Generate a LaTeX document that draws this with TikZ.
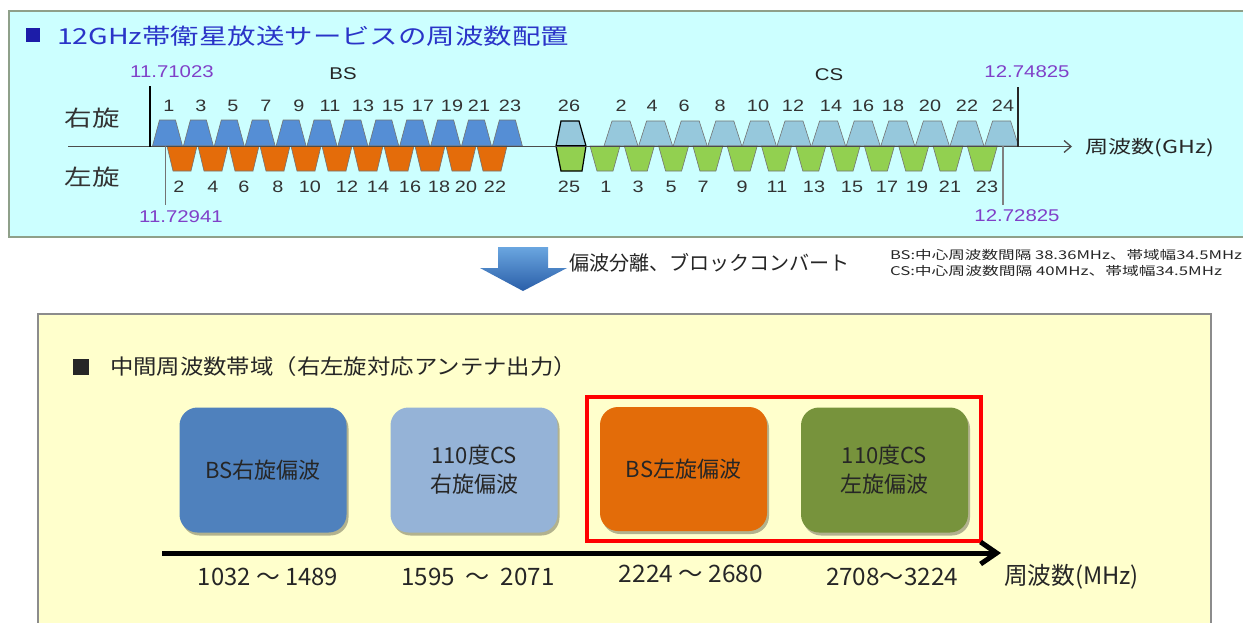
\documentclass[tikz,border=0pt]{standalone}
\usepackage{fontspec}
\usepackage{graphicx}
\setmainfont{Noto Sans CJK JP}
\newfontfamily\jpx[FakeStretch=1.25]{Noto Sans CJK JP}
\newfontfamily\arx[FakeStretch=1.2]{Liberation Sans}
\usetikzlibrary{arrows.meta,shadows}
\definecolor{toppanel}{HTML}{CCFFFF}
\definecolor{topborder}{HTML}{8FA08A}
\definecolor{botpanel}{HTML}{FFFFCC}
\definecolor{botborder}{HTML}{8C8C8C}
\definecolor{titleblue}{HTML}{2A34C8}
\definecolor{sqblue}{HTML}{1C1CA8}
\definecolor{freqpurple}{HTML}{8040C8}
\definecolor{bsblue}{HTML}{558ED5}
\definecolor{bsorange}{HTML}{E46C0A}
\definecolor{csblue}{HTML}{96C8DC}
\definecolor{csgreen}{HTML}{92D050}
\definecolor{boxA}{HTML}{4F81BD}
\definecolor{boxB}{HTML}{95B3D7}
\definecolor{boxC}{HTML}{E36C09}
\definecolor{boxD}{HTML}{77933C}
\definecolor{txtdark}{HTML}{262626}
\definecolor{arrowtop}{HTML}{6AA6E0}
\definecolor{arrowbot}{HTML}{2A5EA8}
\newcommand\fitw[2]{\resizebox{#1}{\height}{#2}}
\begin{document}
\begin{tikzpicture}[x=1pt,y=-1pt,
  every node/.style={inner sep=0pt,outer sep=0pt},
  num/.style={font=\arx\fontsize{16.5}{18}\selectfont,text=black!80},
  freq/.style={font=\arx\fontsize{17}{19}\selectfont,text=freqpurple},
  band/.style={font=\arx\fontsize{17}{19}\selectfont,text=black!85},
  pol/.style={font=\jpx\fontsize{22}{24}\selectfont,text=black!80},
  trBR/.style={fill=bsblue,draw=black!55,line width=0.6pt},
  trBL/.style={fill=bsorange,draw=black!55,line width=0.6pt},
  trCR/.style={fill=csblue,draw=black!55,line width=0.6pt},
  trCL/.style={fill=csgreen,draw=black!55,line width=0.6pt},
  ibox/.style={rounded corners=18pt,minimum width=167pt,minimum height=125pt,
    font=\fontsize{22}{29}\selectfont,text=txtdark,align=center,
    drop shadow={shadow xshift=2pt,shadow yshift=-3pt,opacity=0.3,fill=black}},
  rng/.style={font=\fontsize{24}{26}\selectfont,text=txtdark},
]
\useasboundingbox (0,0) rectangle (1243,622);
\fill[white] (0,0) rectangle (1243,622);

% ---------- top panel ----------
\draw[topborder,line width=2pt,fill=toppanel] (1260,11) -- (9,11) -- (9,237) -- (1260,237);
\fill[sqblue] (26,28) rectangle (40,42);
\node[anchor=west,text=titleblue,font=\fontsize{22}{24}\selectfont] (ttl) at (57,36)
  {\fitw{512pt}{12GHz帯衛星放送サービスの周波数配置}};

% BS right-hand (odd)
\foreach \i in {0,...,11}{
  \pgfmathsetmacro\c{167.5+30.9*\i}
  \filldraw[trBR] ({\c-15},146) -- ({\c-8},120) -- ({\c+8},120) -- ({\c+15},146) -- cycle;
}
% BS left-hand (even)
\foreach \i in {0,...,10}{
  \pgfmathsetmacro\c{182+31*\i}
  \filldraw[trBL] ({\c-15},146) -- ({\c-9},171) -- ({\c+9},171) -- ({\c+15},146) -- cycle;
}
% CS right-hand (even)
\foreach \i in {0,...,11}{
  \pgfmathsetmacro\c{621+34.6*\i}
  \filldraw[trCR] ({\c-17},146) -- ({\c-9},121) -- ({\c+9},121) -- ({\c+17},146) -- cycle;
}
% CS left-hand (odd)
\foreach \i in {0,...,11}{
  \pgfmathsetmacro\c{605+34.3*\i}
  \filldraw[trCL] ({\c-15},146) -- ({\c-8},171) -- ({\c+8},171) -- ({\c+15},146) -- cycle;
}
% BS 25/26
\fill[csblue] (556,146) -- (561,121) -- (579,121) -- (586,146) -- cycle;
\fill[csgreen] (556,146) -- (561,171) -- (582,171) -- (586,146) -- cycle;
\draw[black,line width=1.2pt] (556,146) -- (561,121) -- (579,121) -- (586,146) -- (582,171) -- (561,171) -- cycle;
\draw[black,line width=1.2pt] (556,146) -- (586,146);

% axis and ticks
\coordinate (ax0) at (68,146.5);
\coordinate (ax1) at (1072,146.5);
\draw[black!70,line width=1.3pt,-{Straight Barb[length=7pt,width=12pt]}] (ax0) -- (ax1);
\draw[black,line width=2.5pt] (150,86) -- (150,147);
\draw[black!55,line width=1.3pt] (165.5,146) -- (165.5,205);
\draw[black!85,line width=2pt] (1017.5,87) -- (1017.5,147);
\draw[black!50,line width=1.3pt] (1003,146) -- (1003,205);

% labels
\foreach \x/\n in {169/1,201/3,233/5,266/7,299/9,330/11,363/13,393/15,423/17,452/19,479/21,510/23}
  \node[num] (bsr\n) at (\x,106) {\n};
\foreach \x/\n in {179/2,213/4,244/6,278/8,310/10,347/12,378/14,410/16,439/18,466/20,495/22}
  \node[num] (bsl\n) at (\x,187) {\n};
\foreach \x/\n in {621/2,652/4,684/6,720/8,758/10,793/12,831/14,863/16,893/18,930/20,967/22,1003/24}
  \node[num] (csr\n) at (\x,106) {\n};
\foreach \x/\n in {606/1,638/3,671/5,703/7,742/9,777/11,814/13,852/15,887/17,917/19,950/21,987/23}
  \node[num] (csl\n) at (\x,187) {\n};
\node[num] (bs26) at (569,106) {26};
\node[num] (bs25) at (569,187) {25};

\node[freq] (f1) at (172,72) {11.71023};
\node[freq] (f2) at (181,217) {11.72941};
\node[freq] (f3) at (1027,72) {12.74825};
\node[freq] (f4) at (1017,216) {12.72825};
\node[band] (lbs) at (343,74) {BS};
\node[band] (lcs) at (829,75) {CS};
\node[pol] (rhc) at (92,118) {右旋};
\node[pol] (lhc) at (92,177) {左旋};
\node[anchor=west,font=\fontsize{18}{20}\selectfont,text=black!85] (fgz) at (1085,148)
  {\fitw{129pt}{周波数(GHz)}};

% ---------- middle ----------
\shade[top color=arrowtop,bottom color=arrowbot]
  (498,247) -- (548,247) -- (548,268) -- (567,268) -- (523,291) -- (480,268) -- (498,268) -- cycle;
\node[anchor=west,font=\fontsize{20}{22}\selectfont,text=txtdark] (conv) at (569,263)
  {\fitw{281pt}{偏波分離、ブロックコンバート}};
\node[anchor=west,font=\fontsize{12}{13}\selectfont,text=txtdark] (nbs) at (890,255)
  {\fitw{352pt}{BS:中心周波数間隔 38.36MHz、帯域幅34.5MHz}};
\node[anchor=west,font=\fontsize{12}{13}\selectfont,text=txtdark] (ncs) at (890,271)
  {\fitw{332pt}{CS:中心周波数間隔 40MHz、帯域幅34.5MHz}};

% ---------- bottom panel ----------
\draw[botborder,line width=2pt,fill=botpanel] (38,640) -- (38,314) -- (1211,314) -- (1211,640);
\fill[txtdark] (73,359) rectangle (89,375);
\node[anchor=west,font=\fontsize{21}{24}\selectfont,text=txtdark] (ttl2) at (110,367)
  {\fitw{467pt}{中間周波数帯域（右左旋対応アンテナ出力）}};

\node[ibox,fill=boxA] (b1) at (263,470) {BS右旋偏波};
\node[ibox,fill=boxB] (b2) at (474,470) {110度CS\\右旋偏波};
\node[ibox,fill=boxC,minimum height=124pt] (b3) at (683.5,469) {BS左旋偏波};
\node[ibox,fill=boxD] (b4) at (884.5,470) {110度CS\\左旋偏波};

\draw[red,line width=4pt] (587,397) rectangle (981,541);

\coordinate (bx0) at (162,553);
\coordinate (bx1) at (1001,553);
\draw[black,line width=5pt,-{Straight Barb[length=16pt,width=22pt,line width=5pt]}] (bx0) -- (bx1);

\node[rng] (r1) at (268,577) {\fitw{140pt}{1032 ～ 1489}};
\node[rng] (r2) at (478,577) {\fitw{153pt}{1595 \ ～ \ 2071}};
\node[rng] (r3) at (691,574) {\fitw{144pt}{2224 ～ 2680}};
\node[rng] (r4) at (892,577) {\fitw{132pt}{2708～3224}};
\node[rng,anchor=west] (fmhz) at (1004,577) {\fitw{135pt}{周波数(MHz)}};
\end{tikzpicture}
\end{document}
